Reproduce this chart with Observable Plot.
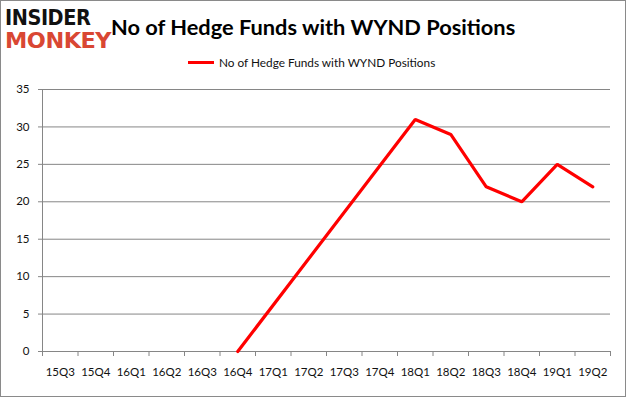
<!DOCTYPE html>
<html>
<head>
<meta charset="utf-8">
<script src="https://cdn.jsdelivr.net/npm/d3@7"></script>
<script src="https://cdn.jsdelivr.net/npm/@observablehq/plot@0.6"></script>
<style>
  html, body { margin: 0; padding: 0; background: #fff; }
  #wrap { position: relative; width: 626px; height: 397px; overflow: hidden; font-family: Lato, "Noto Sans", sans-serif; }
  #frame { position: absolute; left: 0; top: 0; width: 624px; height: 395px; border: 1px solid #8a8a8a; pointer-events: none; }
  #logo1, #logo2 { position: absolute; left: 5px; font-family: "DejaVu Sans", sans-serif; font-weight: 900; letter-spacing: -0.5px; line-height: 1; }
  #logo1 { top: 8px; font-size: 21px; color: #111; transform: scaleX(0.92); transform-origin: left; }
  #logo2 { top: 30px; font-size: 22px; color: #d94733; transform: scaleX(1.02); transform-origin: left; }
  #title { position: absolute; left: 111px; top: 13px; font-size: 21.8px; font-weight: bold; color: #000; white-space: nowrap; }
  #legend { position: absolute; left: 188px; top: 55px; font-size: 11.8px; color: #111; white-space: nowrap; display: flex; align-items: center; }
  #legend .sw { width: 26px; height: 3px; background: #ff0000; margin-right: 5px; }
  #chart { position: absolute; left: 0; top: 80px; }
</style>
</head>
<body>
<div id="wrap">
  <div id="logo1">INSIDER</div>
  <div id="logo2">MONKEY</div>
  <div id="title">No of Hedge Funds with WYND Positions</div>
  <div id="legend"><span class="sw"></span><span>No of Hedge Funds with WYND Positions</span></div>
  <div id="chart"></div>
  <div id="frame"></div>
</div>
<script>
const quarters = ["15Q3","15Q4","16Q1","16Q2","16Q3","16Q4","17Q1","17Q2","17Q3","17Q4","18Q1","18Q2","18Q3","18Q4","19Q1","19Q2"];
const funds = [null,null,null,null,null,0,null,null,null,null,31,29,22,20,25,22];
const yTicks = [0,5,10,15,20,25,30,35];

const data = quarters.map((q, i) => ({q, i, v: funds[i]})).filter(d => d.v != null);
const gray = "#868686";

const chart = Plot.plot({
  width: 626,
  height: 317,
  marginLeft: 42,
  marginRight: 16,
  marginTop: 9,
  marginBottom: 46,
  style: {fontFamily: "Lato, 'Noto Sans', sans-serif", fontSize: "11.5px", color: "#111"},
  x: {type: "linear", domain: [0, quarters.length]},
  y: {domain: [0, 35]},
  marks: [
    Plot.gridY(yTicks.filter(t => t > 0), {stroke: gray, strokeOpacity: 1}),
    Plot.ruleY([0], {stroke: gray}),
    Plot.ruleX([0], {stroke: gray}),
    Plot.axisY(yTicks, {tickSize: 4, tickPadding: 9, stroke: gray, label: null, fill: "#111"}),
    Plot.axisX(d3.range(quarters.length + 1), {tickSize: 5, tickFormat: () => "", stroke: gray, label: null}),
    Plot.axisX(d3.range(quarters.length).map(i => i + 0.5), {tickSize: 0, tickPadding: 16, tickFormat: d => quarters[Math.floor(d)], label: null, fill: "#111"}),
    Plot.line(data, {x: d => d.i + 0.5, y: "v", stroke: "#ff0000", strokeWidth: 3.2, strokeLinejoin: "miter"})
  ]
});
document.getElementById("chart").appendChild(chart);
</script>
</body>
</html>
